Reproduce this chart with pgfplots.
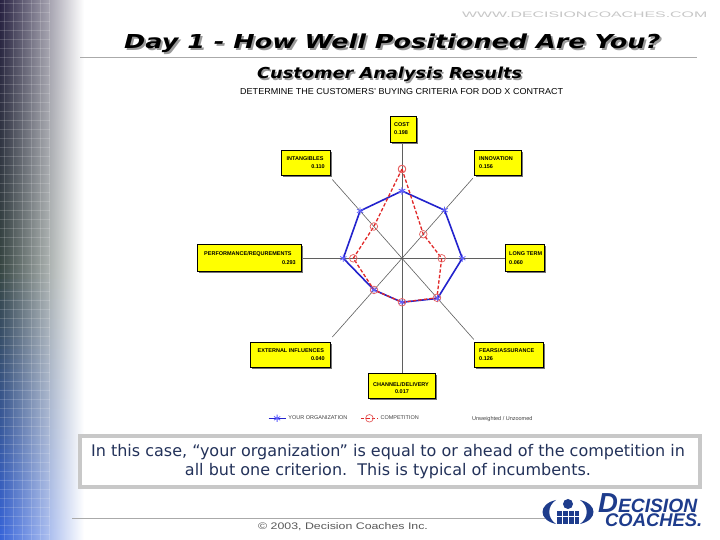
\documentclass[border=0pt]{standalone}
\usepackage{pgfplots}
\pgfplotsset{compat=1.18}
\usepackage{fontspec}
\setmainfont{Liberation Sans}
\newfontfamily\verd{DejaVu Sans}
\definecolor{boxyellow}{RGB}{255,255,0}
\definecolor{shadowgray}{RGB}{115,115,115}
\definecolor{orgblue}{RGB}{35,35,205}
\definecolor{orgmark}{RGB}{95,95,255}
\definecolor{compred}{RGB}{225,40,40}
\definecolor{compmark}{RGB}{230,95,95}
\definecolor{spokegray}{RGB}{95,95,95}
\definecolor{navytext}{RGB}{35,50,90}
\definecolor{framegray}{RGB}{200,200,200}
\definecolor{rulegray}{RGB}{170,170,170}
\definecolor{logoblue}{RGB}{30,60,140}
\definecolor{stripTop}{RGB}{40,34,66}
\definecolor{stripMid}{RGB}{55,70,66}
\definecolor{stripBot}{RGB}{55,100,215}
\newcommand{\cbox}[4]{%
  \fill[shadowgray] (#1+2,#2+2) rectangle (#3+2,#4+2);
  \filldraw[fill=boxyellow, draw=black, line width=0.6bp] (#1,#2) rectangle (#3,#4);}
\begin{document}
\begin{tikzpicture}
\useasboundingbox (0,0) rectangle (720bp,540bp);
\fill[white] (0,0) rectangle (720bp,540bp);
% left decorative strip (horizontal bands fading to white)
\begin{scope}[x=1bp, y=-1bp, shift={(0,540bp)}]
\foreach \i in {0,...,53}{
  \pgfmathsetmacro\t{\i/53}
  \ifdim\t pt<0.5pt
    \pgfmathsetmacro\p{200*\t}\colorlet{cc}{stripMid!\p!stripTop}
  \else
    \pgfmathsetmacro\p{200*(\t-0.5)}\colorlet{cc}{stripBot!\p!stripMid}
  \fi
  \shade[left color=cc, middle color=cc!72!white, right color=white] (0,10*\i) rectangle (84,10*\i+10.6);
}
\begin{scope}[white, opacity=0.16, line width=0.5bp]
\foreach \x in {4,13,...,49} \draw (\x,0) -- (\x,540);
\foreach \y in {3,12,...,540} \draw (0,\y) -- (50,\y);
\end{scope}
\end{scope}

% ---------------- radar chart ----------------
\begin{axis}[
  at={(402bp,281.7bp)}, anchor=center,
  x=1bp, y=1.13bp,
  xmin=-120, xmax=120, ymin=-120, ymax=120,
  hide axis, clip=false,
  legend style={at={(-0.06,-0.09)}, anchor=west, draw=none, fill=none,
    font=\fontsize{5.5bp}{6bp}\selectfont, text=black!75,
    legend columns=2, inner sep=0pt,
    /tikz/every even column/.append style={column sep=11bp}},
  legend cell align=left,
]
% spokes
\addplot[spokegray, line width=0.6bp, data cs=polar, forget plot] coordinates {(90,102.5) (270,102)};
\addplot[spokegray, line width=0.6bp, data cs=polar, forget plot] coordinates {(0,103) (180,102)};
\addplot[spokegray, line width=0.6bp, data cs=polar, forget plot] coordinates {(45,100) (225,98.5)};
\addplot[spokegray, line width=0.6bp, data cs=polar, forget plot] coordinates {(135,98.5) (315,101.5)};
% your organization
\addplot[orgblue, line width=1.6bp, data cs=polar, mark=asterisk, mark size=3.6bp,
  mark options={solid, draw=orgmark, line width=0.8bp}] coordinates {
  (90,59.6) (45,60.2) (0,60.3) (-45,50.2) (-90,38.9) (-135,39.6) (180,58.7) (135,59.3) (90,59.6)};
\addlegendentry{YOUR ORGANIZATION}
% competition
\addplot[compred, line width=1.3bp, dash pattern=on 3.5bp off 2bp, data cs=polar, mark=o, mark size=3.8bp,
  mark options={solid, draw=compmark, line width=0.7bp}] coordinates {
  (90,79) (45,30.1) (0,39.7) (-45,49.4) (-90,38.9) (-135,39.6) (180,48.7) (135,39.8) (90,79)};
\addlegendentry{COMPETITION}
\end{axis}

% ---------------- slide elements (pixel coordinates) ----------------
\begin{scope}[x=1bp, y=-1bp, shift={(0,540bp)}]
% website
\node[anchor=base west, inner sep=0, text=black!22] at (462,17.3)
  {\resizebox{245bp}{5.6bp}{WWW.DECISIONCOACHES.COM}};
% title with shadow
\node[anchor=base west, inner sep=0, text=black!40] at (126,50.3)
  {\resizebox{536bp}{14.6bp}{\verd\bfseries\itshape Day 1 - How Well Positioned Are You?}};
\node[anchor=base west, inner sep=0] at (124,48.3)
  {\resizebox{536bp}{14.6bp}{\verd\bfseries\itshape Day 1 - How Well Positioned Are You?}};
\draw[rulegray, line width=0.8bp] (80,57.5) -- (697,57.5);
% subtitle
\node[anchor=base west, inner sep=0, text=black!40] at (258.5,80.5)
  {\resizebox{265bp}{11.5bp}{\verd\bfseries\itshape Customer Analysis Results}};
\node[anchor=base west, inner sep=0] at (257,79)
  {\resizebox{265bp}{11.5bp}{\verd\bfseries\itshape Customer Analysis Results}};
% chart title
\node[anchor=base west, inner sep=0] at (240,94.5)
  {\resizebox{323bp}{6bp}{DETERMINE THE CUSTOMERS' BUYING CRITERIA FOR DOD X CONTRACT}};

% criterion boxes
\tikzset{bt/.style={inner sep=0, font=\fontsize{5.5bp}{6bp}\selectfont\bfseries}}
\cbox{390}{116}{416}{142}
\node[bt, anchor=base west] at (394,126.5) {COST};
\node[bt, anchor=base west] at (394,134.5) {0.198};
\cbox{281}{150}{330}{175}
\node[bt, anchor=base west] at (286.5,161) {INTANGIBLES};
\node[bt, anchor=base east] at (325,169) {0.110};
\cbox{474}{150}{521}{175}
\node[bt, anchor=base west] at (479,161) {INNOVATION};
\node[bt, anchor=base west] at (479,169) {0.156};
\cbox{197}{244}{301}{271}
\node[bt, anchor=base west] at (204,256) {PERFORMANCE/REQUREMENTS};
\node[bt, anchor=base east] at (296,265) {0.293};
\cbox{505}{244}{544}{271}
\node[bt, anchor=base west] at (509,256) {LONG TERM};
\node[bt, anchor=base west] at (509,265) {0.060};
\cbox{250}{342}{330}{367}
\node[bt, anchor=base west] at (257.5,352.5) {EXTERNAL INFLUENCES};
\node[bt, anchor=base east] at (325,360.5) {0.040};
\cbox{474}{342}{543}{367}
\node[bt, anchor=base west] at (479,352.5) {FEARS/ASSURANCE};
\node[bt, anchor=base west] at (479,360.5) {0.126};
\cbox{368}{373}{435}{398}
\node[bt, anchor=base west] at (373,386.5) {CHANNEL/DELIVERY};
\node[bt, anchor=base] at (402,394) {0.017};
% legend note
\node[anchor=base west, inner sep=0, text=black!75, font=\fontsize{5.5bp}{6bp}\selectfont] at (472,420.5) {Unweighted / Unzoomed};

% comment box
\draw[framegray, line width=3.5bp, fill=white] (80,436) rectangle (700,487);
\node[text=navytext, font=\verd\fontsize{16bp}{19.5bp}\selectfont, align=center, inner sep=0] at (388,461.5)
  {In this case, “your organization” is equal to or ahead of the competition in\\
   all but one criterion.\ \ This is typical of incumbents.};

% footer
\draw[rulegray, line width=0.8bp] (72,518.5) -- (545,518.5);
\node[anchor=base west, inner sep=0, text=black!65] at (258,530)
  {\scalebox{1.3}[1]{\fontsize{9.5bp}{10bp}\selectfont © 2003, Decision Coaches Inc.}};

% logo
\fill[logoblue] (556,500) .. controls (538,504) and (538,520) .. (556,524) .. controls (547,518) and (547,506) .. (556,500);
\fill[logoblue] (580,500) .. controls (598,504) and (598,520) .. (580,524) .. controls (589,518) and (589,506) .. (580,500);
\fill[logoblue] (568,504) circle (5);
\fill[logoblue] (557,511) rectangle (579,524);
\draw[white, line width=0.6bp] (557,516) -- (579,516) (568,511) -- (568,524) (562,511) -- (562,524) (574,511) -- (574,524);
\node[anchor=base west, inner sep=0, text=logoblue] at (598,513)
  {\resizebox{99bp}{!}{\bfseries\itshape\fontsize{20bp}{20bp}\selectfont D\fontsize{14bp}{14bp}\selectfont ECISION}};
\node[anchor=base west, inner sep=0, text=logoblue] at (605,527)
  {\resizebox{97bp}{!}{\bfseries\itshape\fontsize{16bp}{16bp}\selectfont COACHES.}};
\end{scope}
\end{tikzpicture}
\end{document}
